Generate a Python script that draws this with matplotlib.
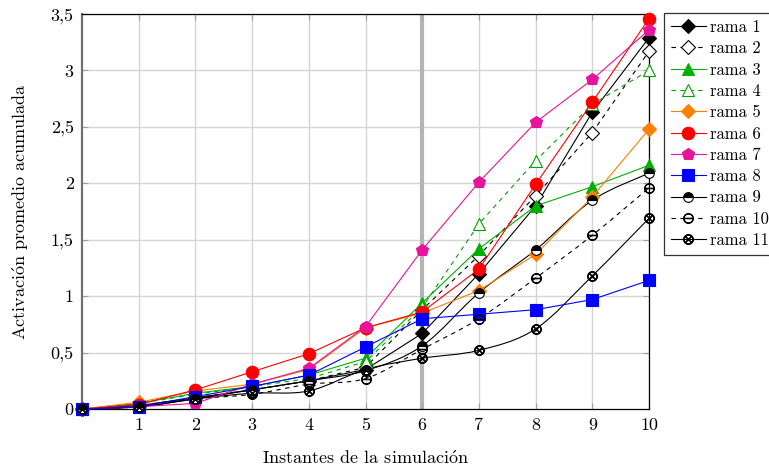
import numpy as np
import matplotlib
matplotlib.use("Agg")
import matplotlib.pyplot as plt
from matplotlib.path import Path
from matplotlib.patches import PathPatch
from matplotlib.lines import Line2D

plt.rcParams["font.family"] = ["cmr10", "DejaVu Serif"]
plt.rcParams["axes.formatter.use_mathtext"] = True
plt.rcParams["mathtext.fontset"] = "cm"

instantes = [0, 1, 2, 3, 4, 5, 6, 7, 8, 9, 10]

rama_1 = [0, 0.03, 0.10, 0.17, 0.25, 0.35, 0.67, 1.20, 1.80, 2.63, 3.29]
rama_2 = [0, 0.03, 0.10, 0.17, 0.25, 0.37, 0.88, 1.36, 1.89, 2.45, 3.17]
rama_3 = [0, 0.05, 0.14, 0.20, 0.30, 0.45, 0.94, 1.42, 1.80, 1.97, 2.16]
rama_4 = [0, 0.05, 0.13, 0.20, 0.27, 0.42, 0.90, 1.64, 2.20, 2.70, 3.00]
rama_5 = [0, 0.06, 0.16, 0.22, 0.35, 0.72, 0.85, 1.05, 1.37, 1.88, 2.48]
rama_6 = [0, 0.04, 0.17, 0.33, 0.49, 0.72, 0.86, 1.24, 1.99, 2.72, 3.46]
rama_7 = [0, 0.02, 0.05, 0.22, 0.36, 0.73, 1.41, 2.01, 2.54, 2.92, 3.36]
rama_8 = [0, 0.02, 0.11, 0.20, 0.30, 0.55, 0.80, 0.84, 0.88, 0.97, 1.14]
rama_9 = [0, 0.02, 0.09, 0.17, 0.25, 0.34, 0.56, 1.03, 1.41, 1.85, 2.09]
rama_10 = [0, 0.02, 0.09, 0.13, 0.22, 0.27, 0.53, 0.80, 1.16, 1.54, 1.96]
rama_11 = [0, 0.02, 0.09, 0.14, 0.16, 0.35, 0.45, 0.52, 0.71, 1.18, 1.69]

etiquetas = ["rama 1", "rama 2", "rama 3", "rama 4", "rama 5", "rama 6",
             "rama 7", "rama 8", "rama 9", "rama 10", "rama 11"]
y_ticks = [0, 0.5, 1, 1.5, 2, 2.5, 3, 3.5]
y_tick_labels = ["0", "0,5", "1", "1,5", "2", "2,5", "3", "3,5"]
x_ticks = [1, 2, 3, 4, 5, 6, 7, 8, 9, 10]
x_tick_labels = ["1", "2", "3", "4", "5", "6", "7", "8", "9", "10"]
instante_marcado = 6

series = [rama_1, rama_2, rama_3, rama_4, rama_5, rama_6,
          rama_7, rama_8, rama_9, rama_10, rama_11]

DASH = (0, (4, 4))
estilos = [
    dict(color="black", ls="-", marker="D", ms=7, mfc="black", mec="black"),
    dict(color="black", ls=DASH, marker="D", ms=7, mfc="white", mec="black"),
    dict(color="#00b000", ls="-", marker="^", ms=9, mfc="#00b000", mec="#00b000"),
    dict(color="#00a000", ls=DASH, marker="^", ms=9, mfc="white", mec="#00a000"),
    dict(color="#ff8000", ls="-", marker="D", ms=7, mfc="#ff8000", mec="#ff8000"),
    dict(color="#ff0000", ls="-", marker="o", ms=9, mfc="#ff0000", mec="#ff0000"),
    dict(color="#e6149a", ls="-", marker="p", ms=9, mfc="#e6149a", mec="#e6149a"),
    dict(color="#0000ff", ls="-", marker="s", ms=8.5, mfc="#0000ff", mec="#0000ff"),
    dict(color="black", ls="-", marker="o", ms=7, mfc="black", mec="black",
         fillstyle="top", mfcalt="white"),
    dict(color="black", ls=DASH, marker=r"$\ominus$", ms=7, mfc="black", mec="black"),
    dict(color="black", ls="-", marker=r"$\otimes$", ms=7, mfc="black", mec="black"),
]
suaves = {8, 9, 10}

fig = plt.figure(figsize=(7.69, 4.71), dpi=100)
ax = fig.add_axes([0.1066, 0.1316, 0.7374, 0.8386])

for v in x_ticks:
    ax.axvline(v, color="#d4d4d4", lw=1.0, zorder=0)
for v in y_ticks[1:]:
    ax.axhline(v, color="#d4d4d4", lw=1.0, zorder=0)
ax.axvline(instante_marcado, color="#b5b5b5", lw=3.0, zorder=0.5)


def curva_suave(xs, ys, k=1.0 / 6.0):
    pts = np.column_stack([xs, ys]).astype(float)
    verts = [pts[0]]
    codes = [Path.MOVETO]
    n = len(pts)
    for i in range(n - 1):
        p0 = pts[max(i - 1, 0)]
        p1 = pts[i]
        p2 = pts[i + 1]
        p3 = pts[min(i + 2, n - 1)]
        c1 = p1 + (p2 - p0) * k
        c2 = p2 - (p3 - p1) * k
        verts += [c1, c2, p2]
        codes += [Path.CURVE4] * 3
    return Path(verts, codes)


handles = []
for i, (ys, st) in enumerate(zip(series, estilos)):
    kw = dict(color=st["color"], linestyle=st["ls"], lw=0.8,
              marker=st["marker"], markersize=st["ms"],
              markerfacecolor=st["mfc"], markeredgecolor=st["mec"],
              markeredgewidth=0.8)
    if "fillstyle" in st:
        kw["fillstyle"] = st["fillstyle"]
        kw["markerfacecoloralt"] = st["mfcalt"]
    h = Line2D([], [], **kw)
    handles.append(h)
    if i in suaves:
        patch = PathPatch(curva_suave(instantes, ys), facecolor="none",
                          edgecolor=st["color"], lw=0.8, linestyle=st["ls"],
                          zorder=2, clip_on=False)
        ax.add_patch(patch)
        kw2 = dict(kw)
        kw2["linestyle"] = "none"
        ax.plot(instantes, ys, zorder=3, clip_on=False, **kw2)
    else:
        ax.plot(instantes, ys, zorder=3, clip_on=False, **kw)

ax.set_xlim(0, 10)
ax.set_ylim(0, 3.5)
ax.set_xticks(x_ticks)
ax.set_xticklabels(x_tick_labels)
ax.set_yticks(y_ticks)
ax.set_yticklabels(y_tick_labels)
ax.tick_params(axis="both", direction="in", length=4, width=0.8,
               color="#a0a0a0", labelsize=13, pad=6,
               top=True, right=True)
for s in ["top", "right", "bottom"]:
    ax.spines[s].set_linewidth(0.9)
    ax.spines[s].set_color("black")
ax.spines["left"].set_linewidth(1.6)
ax.spines["left"].set_color("#707070")

ax.set_xlabel(r"Instantes de la simulaci$\mathrm{\acute{o}}$n", fontsize=13, labelpad=12)
ax.set_ylabel(r"Activaci$\mathrm{\acute{o}}$n promedio acumulada", fontsize=13, labelpad=14)

leg = fig.legend(handles, etiquetas, loc="upper left",
                 bbox_to_anchor=(664 / 769, 1 - 13 / 471),
                 fontsize=12, frameon=True, fancybox=False,
                 edgecolor="black", handlelength=2.1, handletextpad=0.25,
                 labelspacing=0.36, borderpad=0.4, borderaxespad=0)
leg.get_frame().set_linewidth(0.9)

fig.savefig("out.png", dpi=100)
